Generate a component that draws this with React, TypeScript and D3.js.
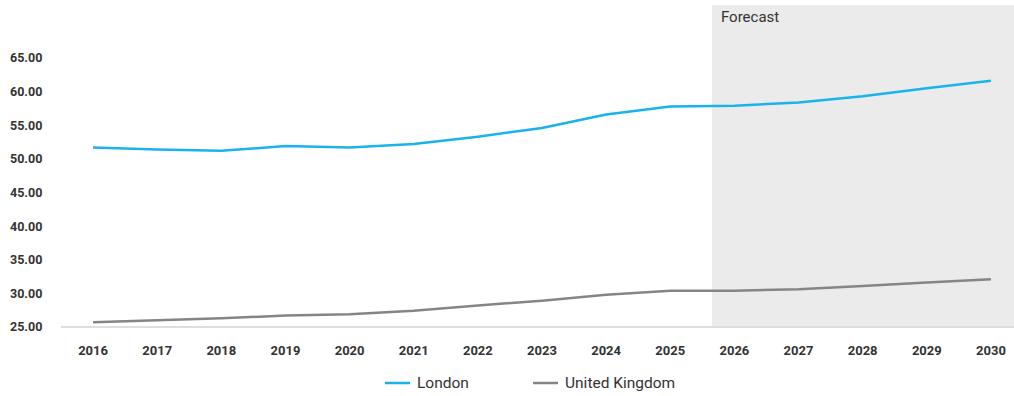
import React from "react";
import * as d3 from "d3";

const years = [2016, 2017, 2018, 2019, 2020, 2021, 2022, 2023, 2024, 2025, 2026, 2027, 2028, 2029, 2030];
const london = [51.7, 51.4, 51.2, 51.9, 51.7, 52.2, 53.3, 54.6, 56.6, 57.8, 57.9, 58.4, 59.3, 60.5, 61.6];
const uk = [25.7, 26.0, 26.3, 26.7, 26.9, 27.4, 28.2, 28.9, 29.8, 30.4, 30.4, 30.6, 31.1, 31.6, 32.1];
const yTicks = [25, 30, 35, 40, 45, 50, 55, 60, 65];
const forecastFrom = 2025;
const seriesNames = ["London", "United Kingdom"];
const colors = ["#19b3ec", "#858585"];

export default function App() {
  const W = 1014, H = 396;
  const x = d3.scaleBand<number>().domain(years).range([61, 1023]);
  const cx = (yr: number) => (x(yr) as number) + x.bandwidth() / 2;
  const y = d3.scaleLinear().domain([25, 65]).range([327, 58]);
  const line = d3
    .line<number>()
    .x((_, i) => cx(years[i]))
    .y((d) => y(d))
    .curve(d3.curveLinear);
  const shadeX = cx(forecastFrom) + x.bandwidth() * 0.65;
  const font = "Roboto, 'DejaVu Sans', sans-serif";
  return (
    <svg width={W} height={H} style={{ position: "absolute", left: 0, top: 0 }}>
      <rect x={shadeX} y={5} width={W - shadeX} height={y(25) - 5} fill="#ebebeb" />
      <text x={shadeX + 9} y={22} fontFamily={font} fontSize={15} fill="#333">Forecast</text>
      <line x1={61} x2={W} y1={y(25)} y2={y(25)} stroke="#dedede" strokeWidth={2} />
      {yTicks.map((t) => (
        <text key={t} x={10} y={y(t)} dy="0.35em" fontFamily={font} fontWeight={700} fontSize={12.5} fill="#333">
          {t.toFixed(2)}
        </text>
      ))}
      {years.map((yr) => (
        <text key={yr} x={cx(yr)} y={355} textAnchor="middle" fontFamily={font} fontWeight={700} fontSize={13} fill="#333">
          {yr}
        </text>
      ))}
      <path d={line(uk) || ""} fill="none" stroke={colors[1]} strokeWidth={2.5} />
      <path d={line(london) || ""} fill="none" stroke={colors[0]} strokeWidth={2.5} />
      {seriesNames.map((n, i) => {
        const lx = i === 0 ? 385 : 533;
        return (
          <g key={n}>
            <line x1={lx} x2={lx + 25} y1={383} y2={383} stroke={colors[i]} strokeWidth={2.5} />
            <text x={lx + 32} y={383} dy="0.35em" fontFamily={font} fontSize={15.5} fill="#333">{n}</text>
          </g>
        );
      })}
    </svg>
  );
}
